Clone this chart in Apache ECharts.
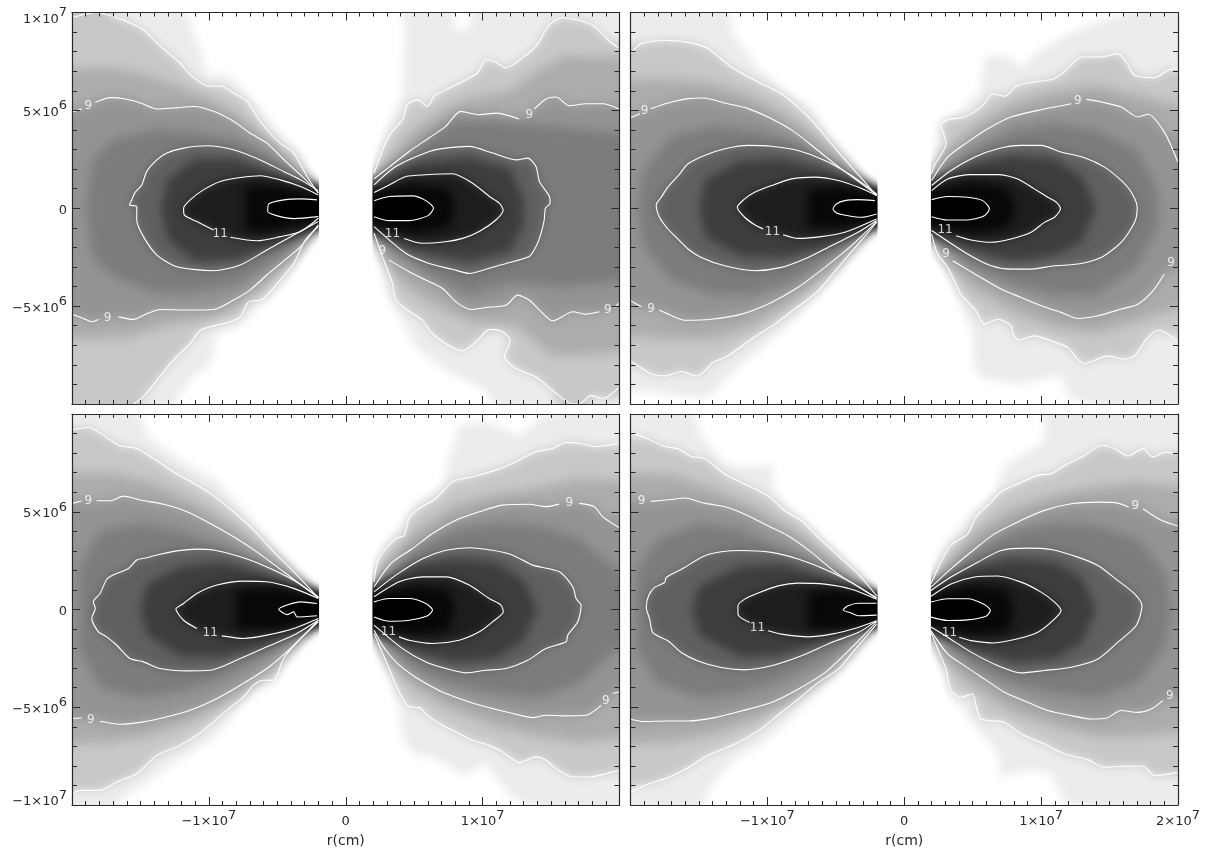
<!DOCTYPE html>
<html><head><meta charset="utf-8">
<style>html,body{margin:0;padding:0;background:#fff}#c{width:1207px;height:855px}</style>
<script src="https://cdn.jsdelivr.net/npm/echarts@6/dist/echarts.min.js"></script>
</head><body><div id="c"></div>
<script>
// All contour vertices are in units of 1e6 cm. null = a break in the white line.
// Tick label tables: value -> [mantissa text, exponent text, vertical nudge key]
const xLabelsBL = {'-10000000':['−1×10','7'],'0':['0',''],'10000000':['1×10','7']};
const xLabelsBR = {'-10000000':['−1×10','7'],'0':['0',''],'10000000':['1×10','7'],'20000000':['2×10','7']};
const yLabelsT = {'10000000':['1×10','7','down'],'5000000':['5×10','6'],'0':['0',''],'-5000000':['−5×10','6']};
const yLabelsB = {'5000000':['5×10','6'],'0':['0',''],'-5000000':['−5×10','6'],'-10000000':['−1×10','7','up']};

// ---------- top left panel, left lobe
const tlLh=[[-20,10],[-12.5,10],[-11.1,9],[-10.4,7.6],[-10.15,6.74],[-8.7,6.83],[-7.46,6.06],[-6.24,5.03],[-4.8,3.84],[-3.3,2.82],[-2,.94],[-2,-.94],[-3.3,-2.47],[-4.5,-3.84],[-6,-4.78],[-7.7,-5.97],[-9.4,-6.4],[-9.9,-7.93],[-11.1,-8.62],[-12.3,-9.64],[-12.8,-10],[-20,-10]];
const tlL8=[[-20,9.73],[-19.17,9.9],[-18.2,10],[-17,9.8],[-15.76,9.47],[-14.8,9.13],[-13.8,8.45],[-12.83,7.85],[-12.1,7.42],[-11.37,6.83],[-10.15,6.26],[-9.05,6.23],[-8.2,5.89],[-7.22,5.46],[-6.5,4.69],[-5.76,4.01],[-4.8,3.33],[-3.8,2.82],[-2.83,1.62],[-2,.77],null,[-2,-.94],[-2.95,-1.62],[-3.8,-2.82],[-4.8,-3.67],[-5.76,-4.44],[-6.24,-4.7],[-7.1,-4.78],[-7.7,-5.55],[-8.44,-5.8],[-9.4,-5.97],[-10.63,-6.23],[-11.37,-6.91],[-12.6,-7.76],[-13.8,-8.79],[-14.8,-9.64],[-15.5,-10],null,[-20,-10]];
const tlLa=[[-20,7],[-17,7.2],[-14,6.7],[-12,6.2],[-10,5.6],[-8,4.8],[-6,3.6],[-4,2.3],[-2,.85],[-2,-.85],[-4,-2.6],[-6,-3.8],[-8,-5],[-10,-5.6],[-13,-6],[-16,-6.6],[-20,-6.8]];
const tlL9=[[-20,4.9],[-19.3,5.07],null,[-18.3,5.41],[-17.2,5.65],[-16.1,5.58],[-15,5.38],[-13.8,5.07],[-12.6,5.12],[-11.1,5.2],[-9.66,4.95],[-8.2,4.44],[-7,3.84],[-5.76,3.33],[-4.5,2.47],[-3.3,1.7],[-2,.8],null,[-2,-.85],[-3.3,-1.96],[-4.3,-2.56],[-5.76,-3.41],[-7,-4.18],[-8.2,-4.69],[-9.66,-5.17],[-11.6,-5.2],[-13.56,-5.17],[-14.5,-5.38],[-15.5,-5.68],[-16.6,-5.55],null,[-18.07,-5.68],[-18.56,-5.8],[-19.17,-5.63],[-20,-5.41]];
const tlLb=[[-18.5,2.5],[-17,3.5],[-14,4],[-11,3.9],[-8,3.5],[-5,2.4],[-2,.8],[-2,-.8],[-5,-2.6],[-8,-3.9],[-11,-4.3],[-14,-4.3],[-17,-3.5],[-18.5,-2.5],[-19,0]];
const tlL10=[[-2,.9],[-3.3,1.45],[-4.54,1.88],[-6.24,2.47],[-8.2,2.99],[-10.15,3.19],[-11.85,3.07],[-13.07,2.82],[-13.8,2.47],[-14.54,1.88],[-14.9,1.19],[-15.4,.8],[-15.63,.43],[-15.8,.17],[-15.27,.08],[-15.27,-.6],[-14.78,-1.45],[-13.8,-2.39],[-12.34,-2.99],[-9.66,-3.19],[-7.7,-2.9],[-5.76,-2.13],[-3.8,-1.37],[-2,-.68]];
const tlLc=[[-13.5,0],[-13,1.5],[-11,2.5],[-8,2.5],[-5,1.7],[-2,.8],[-2,-.7],[-5,-1.9],[-8,-2.6],[-11,-2.7],[-13,-1.6]];
const tlL11=[[-2,.68],[-3.3,1.11],[-4.78,1.45],[-6.24,1.66],[-7.7,1.57],[-9.17,1.37],[-10.4,.94],[-11.37,.43],[-11.85,0],[-11.8,-.34],[-10.88,-.68],[-9.66,-1.11],null,[-8.44,-1.48],[-6.5,-1.66],[-4.78,-1.45],[-3.3,-1.19],[-2,-.51]];
const tlLd=[[-7.3,1.1],[-5,1.1],[-2,.6],[-2,-.5],[-5,-1.1],[-7.3,-1.2]];
const tlL12=[[-2.1,.43],[-3.3,.48],[-4.5,.43],[-5.63,.22],[-5.7,-.17],[-5,-.39],[-3.8,-.53],[-2,-.43]];
// ---------- top left panel, right lobe
const tlRh=[[2.07,1.8],[3.17,4.35],[4.15,5.8],[4.3,8.6],[4.15,10],[7.3,10],[8,9.1],[9,9.1],[9.5,10],[20,10],[20,-10],[12.2,-10],[10.2,-9.3],[7.3,-8.3],[5.1,-7.1],[3.9,-5.55],[3,-4.35],[2.07,-1.6]];
const tlR8=[[2.07,1.79],[2.8,3.16],[3.3,3.84],[4.15,4.52],[4.5,5.29],[5.24,5.55],[5.98,5.2],[6.46,5.72],[7.56,6.14],[8.78,6.57],[9.63,6.91],[10.24,7.59],[10.85,7.51],[11.7,7.17],[12.9,7.68],[13.9,8.28],[14.9,9.39],[15.85,9.73],[17.07,9.6],[18.17,9.3],[19.27,8.53],[20,8.16],null,[20,-9.13],[18.8,-9.73],[17.93,-9.56],[17.07,-10],[16.6,-10],[15.1,-9.3],[13.9,-8.62],[12.44,-8.19],[11.6,-7.59],[12,-6.74],[11.46,-6.31],[10.5,-6.19],[9.63,-6.74],[8.54,-7.29],[7.3,-6.91],[6.2,-6.31],[5.6,-5.72],[4.5,-5.2],[3.66,-4.69],[3.41,-3.84],[2.68,-2.47],[2.07,-1.28]];
const tlRa=[[2.07,1.3],[3.5,2.8],[5,4],[7,5],[9,5.6],[12,6],[14,7],[16,7.8],[20,7.5],[20,-7.2],[17,-7.5],[15,-7.5],[12.5,-6],[9,-5.8],[6,-4.8],[4,-3.8],[2.5,-2],[2.07,-1.2]];
const tlR9=[[2.07,1.5],[3.17,2.1],[4.63,2.9],[6.1,3.6],[7.3,4.18],[8.4,4.95],[9.75,4.78],[10.97,4.86],[12.68,4.56],null,[13.78,5.07],[14.63,5.58],[15.37,5.68],[16.34,5.24],[17.56,5.34],[18.78,5.34],[20,5.07],null,[20,-4.83],[19.63,-5.07],null,[18.54,-5.29],[17.56,-5.41],[16.6,-5.29],[15.12,-5.75],[14.4,-5.38],[13.4,-4.69],[12.56,-4.44],[11.7,-4.95],[10.24,-5.07],[9.15,-5.17],[8.05,-4.78],[7.07,-4.1],[5.85,-3.67],[4.63,-3.24],[3.17,-2.65],null,[2.07,-1.28]];
const tlRb=[[2.07,1],[4,2.4],[6,3.6],[8,4.5],[11,4.4],[15,4.2],[20,3.5],[20,-3.5],[16,-4],[12,-3.8],[9,-4.4],[6,-3.4],[2.07,-1]];
const tlR10=[[2.07,1.19],[3.66,2.13],[6.1,2.9],[7.3,3.07],[9.02,3.16],[10.73,2.82],[12.44,2.47],[13.3,2.56],[13.9,2.13],[14.15,1.37],[14.88,.6],[14.93,.26],[14.59,0],[14.5,-.6],[14.27,-1.28],[13.9,-1.96],[13.4,-2.47],[11.7,-2.82],[10.24,-3.12],[9.02,-3.33],[7.8,-3.12],[6.1,-2.82],[4.39,-2.3],[2.07,-.94]];
const tlRc=[[2.07,.9],[5,2.3],[9,2.6],[12,2],[13,.5],[13,-.8],[12,-2.2],[9,-2.7],[5,-2.2],[2.07,-.8]];
const tlR11=[[2.07,.8],[3.17,1.19],[4.39,1.62],[5.85,1.71],[7.8,1.76],[9.27,1.28],[10.5,.6],[11.22,.26],[11.5,-.09],[10.97,-.6],[9.75,-1.19],[8.54,-1.54],[7.3,-1.71],[5.6,-1.79],[4.27,-1.54],null,[2.07,-.85]];
const tlRd=[[2,.7],[5,1.2],[7.5,1],[8,0],[7.5,-1],[5,-1.3],[2,-.7]];
const tlR12=[[2.07,.38],[3.17,.6],[4.88,.63],[5.85,.39],[6.41,0],[5.98,-.39],[4.63,-.63],[3.17,-.63],[2.07,-.43]];
// ---------- top right panel, left lobe
const trLh=[[-20,10],[-13.5,10],[-12.4,8.75],[-10.7,7.2],[-8.7,6],[-6.8,5.17],[-5.3,3.46],[-3.6,2.1],[-2,.73],[-2,-.72],[-3.6,-2.17],[-5.8,-4.04],[-7.76,-5.58],[-10.7,-7.29],[-12.9,-8.65],[-14.34,-9.68],[-16.5,-9.6],[-18,-9.4],[-20,-9.2]];
const trL8=[[-20,7.9],[-19.2,8.41],[-17.4,8.58],[-15.56,8.45],[-14.34,8.16],[-12.63,7.22],[-10.68,6.45],[-8.98,5.85],[-7.76,5.17],[-6.54,4.32],[-5.32,3.29],[-3.85,2.1],[-2.02,.65],null,[-2.02,-.72],[-3.37,-1.83],[-4.83,-3.02],[-6.3,-4.22],[-8,-5.15],[-9.46,-5.92],[-11.17,-6.69],[-12.88,-7.54],[-13.98,-7.88],[-14.7,-8.4],[-15.2,-8.57],[-16.3,-8.34],[-17.5,-8.57],[-18.5,-8.45],[-19.46,-8.05],[-20,-7.8]];
const trLa=[[-20,6.5],[-17,6.6],[-14,6.4],[-11,5.7],[-8,4.5],[-5,2.9],[-2,.7],[-2,-.7],[-5,-3],[-8,-4.7],[-11,-6],[-14,-6.7],[-17,-6.7],[-20,-6.3]];
const trL9=[[-20,4.62],[-19.3,4.83],null,[-18.5,5.09],[-17.27,5.38],[-15.8,5.6],[-14.7,5.63],[-12.88,5.34],[-11.4,5.09],[-9.7,4.57],[-8,3.89],[-6.3,2.95],[-4.6,2.01],[-2.02,.68],null,[-2.02,-.67],[-3.85,-1.91],[-5.8,-3.02],[-7.76,-4.04],[-9.7,-4.81],[-11.9,-5.41],[-14.1,-5.67],[-16.05,-5.72],[-17,-5.49],[-17.9,-5.2],null,[-19.2,-5.03],[-20,-4.73]];
const trLb=[[-19.5,0],[-19,2],[-17,3.7],[-14,4.2],[-11,4],[-8,3.4],[-5,2.1],[-2,.7],[-2,-.7],[-5,-2.3],[-8,-3.7],[-11,-4.4],[-14,-4.4],[-17,-3.7],[-19,-2]];
const trL10=[[-2.02,.73],[-3.85,1.67],[-5.8,2.44],[-7.76,2.95],[-9.7,3.17],[-11.4,3.21],[-13.1,3.04],[-14.6,2.7],[-15.8,2.27],[-16.4,1.76],[-17.27,1.08],[-17.76,.56],[-18.12,.17],[-17.88,-.46],[-17.27,-1.06],[-16.78,-1.4],[-15.8,-2.08],[-14.83,-2.51],[-13.12,-2.94],[-10.93,-3.19],[-8.98,-3.02],[-7.02,-2.51],[-5.32,-1.91],[-3.37,-1.23],[-2.02,-.63]];
const trLc=[[-15,0],[-14.5,1.5],[-12,2.4],[-9,2.5],[-6,2],[-2,.7],[-2,-.7],[-6,-2.1],[-9,-2.5],[-12,-2.4],[-14.5,-1.5]];
const trL11=[[-2.02,.65],[-3.37,1.08],[-4.83,1.42],[-6.54,1.59],[-8.24,1.5],[-9.7,1.16],[-10.93,.82],[-11.66,.48],[-12.2,.05],[-11.66,-.46],[-10.93,-.84],[-10.3,-1.06],null,[-8.85,-1.35],[-7.76,-1.54],[-6.05,-1.45],[-4.34,-1.23],[-2.02,-.55]];
const trLd=[[-7,.9],[-4.5,1.1],[-2,.6],[-2,-.5],[-4.5,-1],[-7,-1]];
const trL12=[[-2.15,.39],[-3.37,.44],[-4.34,.39],[-4.95,.22],[-5.2,-.03],[-4.95,-.24],[-4.1,-.38],[-3.12,-.46],[-2.02,-.29]];
// ---------- top right panel, right lobe
const trRh=[[2,1.9],[2.6,4.3],[4.2,5],[5.5,6],[5.9,7.7],[7.3,7.9],[8.5,7.2],[10,8.1],[12,8.9],[14.6,9.6],[20,10],[20,-10],[12,-9.7],[11.5,-8.5],[8.5,-9],[5.6,-8.7],[5.1,-8.1],[5,-6.4],[4,-4.7],[2.7,-2.5],[2,-1.3]];
const trR8=[[2,1.76],[2.2,2.18],[3.05,3.29],[2.88,3.8],[2.68,4.23],[3.17,4.52],[4.15,4.62],[5.12,4.91],[5.85,5.34],[6.46,5.85],[7.32,5.72],[8.3,6.28],[9.76,6.48],[10.98,6.62],[11.95,7.13],[12.93,7.73],[14.39,7.73],[15.6,7.9],[16.22,7.47],[16.83,6.79],[18.3,6.67],[19.27,7.05],[20,7.18],null,[20,-6.86],[19.27,-6.43],[18.54,-6.23],[17.8,-6.6],[16.83,-7.54],[16.1,-7.71],[14.88,-7.54],[13.17,-7.93],[12.68,-7.71],[11.95,-7.12],[10.73,-6.77],[9.5,-6.52],[8.4,-6.74],[7.93,-6.43],[7.8,-6],[6.83,-5.67],[5.85,-5.92],[5.24,-5.24],[4.15,-4.39],[3.17,-3.02],[2.44,-2.34],[2,-1.31]];
const trRa=[[2,1.4],[3,2.9],[5,4.1],[8,5.4],[11,6],[14,6.3],[17,5.8],[20,4.5],[20,-4.2],[17,-5.8],[14,-6.4],[11,-6.1],[8,-5.3],[5,-4.1],[3,-2.7],[2,-1.3]];
const trR9=[[2,1.42],[3.17,2.61],[4.63,3.38],[6.1,4.06],[7.8,4.66],[9.76,5],[12.2,5.34],null,[13.3,5.56],[14.4,5.43],[15.85,5.17],[17.07,4.66],[17.8,4.8],[19,3.89],[20,2.35],null,[20,-2.2],null,[19,-3.36],[18.17,-4.22],[17.07,-4.9],[15.85,-5.15],[14.15,-5.49],[12.68,-5.63],[11.46,-5.32],[10,-4.98],[8.54,-4.56],[7.07,-4.13],[5.37,-3.45],[3.54,-2.68],null,[2,-1.31]];
const trRb=[[2,1.3],[5,2.9],[8,4],[11,4.3],[14,4],[17,3],[18.5,1],[18.5,-1],[17,-3],[14,-4.4],[11,-4.4],[8,-3.9],[5,-3],[2,-1.2]];
const trR10=[[2,1.16],[3.41,1.93],[5.12,2.61],[6.83,3.04],[8.54,3.21],[10,3.21],[11.46,2.87],[13.17,2.58],[14.63,2.1],[15.85,1.42],[16.59,.82],[17.02,.05],[16.83,-.72],[15.85,-1.74],[14.39,-2.51],[12.68,-2.85],[10.98,-2.94],[9.27,-3.11],[7.8,-3.11],[6.34,-2.94],[4.63,-2.34],[2,-1.14]];
const trRc=[[2,1.1],[5,2.3],[8,2.7],[11,2.5],[13,1.6],[14,0],[13,-1.7],[11,-2.4],[8,-2.7],[5,-2.2],[2,-1.1]];
const trR11=[[2,.9],[3.17,1.5],[4.88,1.72],[6.83,1.72],[8.3,1.5],[9.5,.99],[10.49,.56],[11.1,.31],[11.41,-.03],[10.98,-.46],[10.24,-.72],[9.27,-1.23],[7.8,-1.57],[6.34,-1.74],[4.88,-1.62],[3.78,-1.4],null,[2,-.89]];
const trRd=[[2,.8],[5,1.3],[7.5,1],[8.2,0],[7.5,-1],[5,-1.3],[2,-.8]];
const trR12=[[2,.44],[3.17,.6],[4.63,.56],[5.73,.39],[6.22,-.03],[5.85,-.38],[4.63,-.6],[3.17,-.6],[2,-.43]];
// ---------- bottom left panel, left lobe
const blLh=[[-20,10],[-16,10],[-14.5,8.9],[-12.1,7.65],[-9.4,6.6],[-7.2,4.83],[-5,3.12],[-3.3,1.76],[-2,.6],[-2,-.63],[-4,-2.34],[-5.3,-3.7],[-7.2,-4.56],[-9.66,-6.6],[-12.1,-7.63],[-14.5,-8.82],[-16.7,-9.85],[-17,-10],[-20,-10]];
const blL8=[[-20,9.18],[-18.8,9.32],[-17.7,8.92],[-16.5,8.38],[-15.27,8.24],[-14.05,7.73],[-12.6,7.05],[-11.1,6.45],[-9.9,5.94],[-8.2,5],[-6.73,4.06],[-5.27,2.95],[-3.8,1.93],[-2,.6],null,[-2,-.63],[-3.3,-1.48],[-4.54,-2.51],[-5.27,-3.62],[-6,-3.62],[-6.73,-3.87],[-7.46,-4.47],[-8.68,-5.15],[-10.39,-6.18],[-12.1,-6.95],[-13.8,-7.46],[-15.27,-8.4],[-16.73,-8.82],[-17.95,-9.25],[-19.4,-9.25],[-20,-9.42]];
const blLa=[[-20,7],[-17,7],[-14,6.5],[-11,5.5],[-8,4.2],[-5,2.6],[-2,.6],[-2,-.6],[-5,-2.7],[-8,-4.4],[-11,-5.6],[-14,-6.4],[-17,-6.8],[-20,-7]];
const blL9=[[-20,5.43],[-19.3,5.55],null,[-18.2,5.56],[-17.2,5.56],[-16.24,5.8],[-15,5.6],[-13.3,5.38],[-11.6,5],[-9.9,4.4],[-8.2,3.72],[-6.5,2.95],[-4.54,1.93],[-2,.6],null,[-2,-.55],[-3.8,-1.83],[-5.76,-3.02],[-7.7,-3.87],[-9.66,-4.64],[-11.37,-5.15],[-13.07,-5.49],[-14.78,-5.75],[-16.5,-5.87],[-17.95,-5.72],null,[-19.3,-5.55],[-20,-5.58]];
const blLb=[[-19.5,2],[-18,4],[-15,4.4],[-12,4],[-9,3.2],[-5,1.9],[-2,.6],[-2,-.6],[-5,-2],[-9,-3.5],[-12,-4.2],[-15,-4.5],[-18,-4],[-19.5,-2]];
const blL10=[[-2,.65],[-3.8,1.5],[-5.76,2.18],[-7.7,2.7],[-9.66,3.04],[-10.88,3.09],[-12.34,3],[-13.56,2.83],[-14.54,2.65],[-15.27,2.53],[-15.88,2.1],[-17,1.76],[-17.46,1.55],[-17.95,.82],[-18.44,.39],[-18.3,.05],[-18.56,-.46],[-18.07,-1.14],[-17.46,-1.4],[-16.73,-1.83],[-15.76,-2.51],[-14.78,-2.68],[-13.56,-3.02],[-11.6,-3.14],[-9.9,-3.11],[-7.7,-2.51],[-5.76,-1.91],[-3.8,-1.31],[-2,-.55]];
const blLc=[[-15,0],[-14.5,1.3],[-12,2.2],[-9,2.4],[-6,1.8],[-2,.6],[-2,-.6],[-6,-1.9],[-9,-2.4],[-12,-2.4],[-14.5,-1.3]];
const blL11=[[-2,.56],[-3.8,1.08],[-5.76,1.42],[-7.46,1.45],[-9.41,1.25],[-10.88,.82],[-11.85,.31],[-12.41,.02],[-11.85,-.55],[-10.88,-.97],null,[-9.05,-1.35],[-7.46,-1.48],[-5.76,-1.31],[-3.8,-.97],[-2,-.46]];
const blLd=[[-8,1],[-5,1.1],[-2,.5],[-2,-.4],[-5,-1],[-8,-1]];
const blL12=[[-2.1,.31],[-3.3,.39],[-4.17,.26],[-4.9,.02],[-4.3,-.26],[-3.8,-.12],[-3.56,-.38],[-2.1,-.32]];
// ---------- bottom left panel, right lobe
const blRh=[[2.07,1.6],[2.7,3.1],[4.4,4.66],[5.1,5.5],[7,6.2],[7.56,7.73],[8.3,9.44],[10.24,9.6],[12.7,8.9],[14.15,9.78],[20,10],[20,-10],[12.7,-9.85],[12,-9.5],[10.24,-7.9],[8.5,-8.5],[7.8,-8.14],[6.6,-7.63],[4.88,-7.37],[4.15,-6.6],[3.9,-4.9],[2.7,-2.7],[2.07,-1.3]];
const blR8=[[2.07,1.42],[2.32,2.44],[2.93,3.12],[3.66,3.63],[4.27,3.8],[4.63,4.66],[5.37,5.17],[6.59,5.68],[7.8,6.54],[9.27,6.79],[10.98,7.13],[12.44,7.56],[13.9,8.07],[15.12,8.24],[16.1,8.55],[17.07,8.5],[18.3,8.33],[20,8.5],null,[20,-8.23],[19.02,-8.4],[17.8,-8.57],[16.59,-8.57],[15.37,-8.14],[14.63,-7.71],[13.9,-7.54],[12.68,-7.83],[11.46,-7.29],[10.49,-6.95],[9.27,-6.69],[8.29,-6.35],[7.07,-5.92],[6.1,-5.49],[5.37,-5.02],[4.63,-4.98],[3.9,-4.21],[3.17,-3.02],[2.44,-1.83],[2.07,-1.23]];
const blRa=[[2.07,1.2],[2.5,1.8],[5,4],[8,5.4],[11,5.9],[14,6.2],[17,6.7],[20,6.4],[20,-6.3],[17,-6.8],[14,-6.5],[11,-6],[8,-5.2],[5,-4],[3,-2.6],[2.07,-1.2]];
const blR9=[[2.07,1.16],[3.29,2.35],[4.88,3.12],[6.34,3.89],[8.05,4.57],[9.76,5],[11.46,5.34],[13.41,5.38],[14.63,5.26],[15.6,5.39],null,[17.07,5.43],[18.17,5.26],[18.78,4.74],[20,4.18],null,[20,-4.21],[19.5,-4.3],null,[18.66,-4.9],[17.56,-5.41],[16.1,-5.44],[14.63,-5.41],[13.66,-5.53],[12.2,-5.32],[10.49,-5.03],[9.02,-4.73],[7.32,-4.3],[6.1,-3.87],[4.88,-3.36],[3.66,-2.68],[2.68,-1.83],[2.07,-1.06]];
const blRb=[[2.07,.9],[5,3],[8,4.1],[11,4.4],[14,4.3],[17,3.7],[19,2.5],[20,0],[19,-2.5],[17,-3.8],[14,-4.5],[11,-4.3],[8,-3.9],[5,-3],[2.07,-.9]];
const blR10=[[2.07,.9],[3.66,1.76],[5.61,2.6],[7.32,3.03],[9.02,3.16],[10.73,3.03],[12.2,2.78],[13.66,2.27],[15.61,1.93],[16.59,1.16],[16.83,.56],[17.2,.22],[16.95,-.63],[16.22,-1.31],[16.1,-1.65],[14.63,-2],[13.29,-2.6],[11.71,-3.02],[10.24,-3.11],[8.78,-3.24],[7.32,-3.02],[5.85,-2.68],[4.15,-2],[2.07,-.8]];
const blRc=[[2.07,.8],[5,2.3],[8,2.6],[11,2.4],[13,1.5],[14,0],[13,-1.6],[11,-2.5],[8,-2.7],[5,-2.2],[2.07,-.8]];
const blR11=[[2.07,.65],[3.9,1.42],[5.61,1.67],[7.32,1.67],[9.02,1.25],[10.49,.56],[11.34,.22],[11.51,-.12],[10.73,-.63],[9.76,-1.14],[8.29,-1.57],[6.34,-1.74],[4.63,-1.57],[3.9,-1.4],null,[2.07,-.84]];
const blRd=[[2,.6],[5,1.2],[7.5,1],[8,0],[7.5,-1.1],[5,-1.3],[2,-.7]];
const blR12=[[2.07,.39],[3.17,.56],[4.63,.56],[5.85,.31],[6.34,-.03],[5.98,-.32],[4.63,-.55],[3.17,-.6],[2.07,-.38]];
// ---------- bottom right panel, left lobe
const brLh=[[-20,10],[-16.3,10],[-14.83,8.9],[-13.12,7.44],[-10.68,7.27],[-9.7,7.53],[-9.46,6],[-7.27,4.45],[-5.32,3.09],[-3.37,1.72],[-2,.7],[-2,-.75],[-3.85,-2.54],[-6.78,-4.59],[-9.95,-6.64],[-12.39,-7.66],[-14.34,-9.2],[-15.56,-9.97],[-20,-10]];
const brL8=[[-20,9.06],[-18.73,8.72],[-17.5,8.34],[-16.5,8.21],[-15.56,7.83],[-14.6,7.73],[-13.12,6.93],[-11.66,6.42],[-9.95,5.82],[-8.73,5.05],[-7.51,4.54],[-6.29,3.69],[-4.83,2.75],[-3.37,1.81],[-2.02,.7],null,[-2.02,-.75],[-3.37,-1.86],[-4.83,-3.05],[-6.29,-3.74],[-7.76,-4.59],[-8.98,-5.27],[-10.68,-6.21],[-12.39,-6.89],[-14.34,-7.46],[-15.8,-8.09],[-17.27,-8.6],[-18.73,-8.94],[-20,-9.33]];
const brLa=[[-20,7],[-17,6.9],[-14,6.2],[-11,5.3],[-8,4],[-5,2.5],[-2,.6],[-2,-.6],[-5,-2.9],[-8,-4.5],[-11,-5.7],[-14,-6.4],[-17,-6.8],[-20,-7]];
const brL9=[[-20,5.56],null,[-18.5,5.53],[-17.27,5.61],[-16.05,5.7],[-14.6,5.44],[-12.88,5.22],[-11.41,4.8],[-9.95,4.28],[-8.49,3.77],[-6.78,2.92],[-4.83,1.81],[-2.02,.61],null,[-2.02,-.63],[-3.85,-1.95],[-5.8,-3.23],[-7.76,-4.08],[-9.7,-4.76],[-11.9,-5.19],[-13.85,-5.53],[-15.8,-5.7],[-17.5,-5.7],[-18.98,-5.73],[-20,-5.61]];
const brLb=[[-19.6,2],[-18,3.6],[-15,4.4],[-12,4.1],[-9,3.1],[-5,1.8],[-2,.6],[-2,-.6],[-5,-2.2],[-9,-3.6],[-12,-4.3],[-15,-4.5],[-18,-3.8],[-19.6,-2]];
const brL10=[[-2.02,.56],[-3.85,1.38],[-5.8,2.06],[-7.76,2.58],[-9.7,2.92],[-11.9,3.02],[-13.37,2.95],[-14.7,2.71],[-16.05,2.15],[-17.39,1.64],[-17.51,1.38],[-18.24,1.13],[-18.68,.7],[-18.85,.1],[-18.6,-.49],[-18.37,-1.18],[-17.27,-1.6],[-16.29,-2.2],[-15.07,-2.63],[-13.37,-2.97],[-11.66,-3.09],[-9.7,-2.88],[-7.51,-2.37],[-5.32,-1.69],[-3.37,-1.18],[-2.02,-.58]];
const brLc=[[-15.5,0],[-15,1.2],[-12,2.2],[-9,2.3],[-6,1.7],[-2,.55],[-2,-.55],[-6,-1.7],[-9,-2.3],[-12,-2.4],[-15,-1.3]];
const brL11=[[-2.02,.53],[-3.85,1.04],[-5.8,1.3],[-7.76,1.35],[-9.22,1.21],[-10.68,.84],[-11.66,.53],[-12.15,.19],[-12.15,-.24],[-11.29,-.67],null,[-9.95,-1.09],[-8.98,-1.26],[-7.02,-1.4],[-5.32,-1.26],[-3.37,-.92],[-2.02,-.58]];
const brLd=[[-7,.9],[-4.5,1],[-2,.5],[-2,-.5],[-4.5,-1],[-7,-1]];
const brL12=[[-2.02,.32],[-3.37,.32],[-4.1,.19],[-4.46,-.02],[-3.85,-.19],[-3.37,-.32],[-2.02,-.29]];
// ---------- bottom right panel, right lobe
const brRh=[[1.95,1.4],[2.7,3],[4.9,4.9],[6.6,5.84],[7.3,7.37],[10.24,8.57],[10.24,10],[20,10],[20,-10],[11.7,-9.86],[10.7,-8.33],[8.78,-8.24],[7.07,-8.58],[6.83,-7.3],[5.12,-5.94],[3.66,-4.57],[2.68,-2.7],[1.95,-1.25]];
const brR8=[[1.95,1.31],[2.68,2.42],[3.41,3.28],[4.63,3.87],[5.24,4.73],[6.1,5.32],[7.07,6.01],[8.29,6.43],[9.76,6.86],[10.73,6.95],[11.95,7.46],[13.17,7.88],[14.39,8.4],[15.37,8.23],[16.34,7.85],[17.44,8.23],[18.17,7.8],[19.02,8.05],[20,7.97],null,[20,-8.33],[18.29,-8.5],[17.44,-8.02],[16.1,-8.02],[14.63,-8.07],[13.41,-7.68],[11.71,-7.39],[10.24,-6.88],[8.54,-6.37],[7.32,-5.77],[5.61,-5.6],[5.24,-4.91],[5,-4.32],[4.15,-4.49],[3.41,-4.15],[3.05,-3.04],[2.44,-2.01],[1.95,-1.16]];
const brRa=[[1.95,1.2],[2.5,1.7],[5,3.9],[8,5.2],[11,5.9],[14,6.3],[17,6.5],[20,6],[20,-6],[17,-6.5],[14,-6.5],[11,-6],[8,-5.3],[5,-4],[3,-2.7],[1.95,-1.1]];
const brR9=[[1.95,1.14],[3.41,2.08],[4.88,2.94],[6.59,3.87],[8.54,4.56],[10.24,5.07],[12.2,5.41],[14.15,5.49],[15.61,5.44],[16.39,5.24],null,[17.44,5.15],[18.78,4.56],[20,4.27],null,[20,-4.15],null,[18.9,-4.66],[18.05,-5.09],[17.07,-5.26],[15.85,-5.17],[14.76,-5.56],[13.66,-5.6],[12.2,-5.43],[10.49,-5.17],[9.02,-4.74],[7.32,-4.23],[5.85,-3.55],[4.39,-2.87],[3.17,-2.27],[1.95,-1.08]];
const brRb=[[1.95,1],[5,2.9],[8,4],[11,4.4],[14,4.3],[17,3.6],[19,2],[19.5,0],[19,-2],[17,-3.8],[14,-4.5],[11,-4.3],[8,-3.8],[5,-2.9],[1.95,-1]];
const brR10=[[1.95,.97],[3.41,1.66],[5.37,2.42],[7.07,3.02],[9.02,3.14],[10.73,3.07],[12.68,2.68],[14.15,2.25],[15.61,1.48],[16.83,.8],[17.37,.2],[16.95,-.82],[15.61,-1.67],[14.15,-2.53],[12.2,-2.95],[10.24,-3.12],[8.54,-3.24],[6.83,-2.87],[4.88,-2.18],[3.17,-1.42],[1.95,-.9]];
const brRc=[[1.95,.9],[5,2.2],[8,2.6],[11,2.4],[13,1.6],[14,0],[13,-1.7],[11,-2.5],[8,-2.7],[5,-2.1],[1.95,-.9]];
const brR11=[[1.95,.68],[3.41,1.31],[5.12,1.66],[6.83,1.71],[8.54,1.4],[10,.89],[10.98,.38],[11.46,-.05],[10.73,-.65],[9.76,-1.16],[8.29,-1.5],[6.59,-1.71],[4.88,-1.59],[4.02,-1.42],null,[1.95,-.73]];
const brRd=[[2,.6],[5,1.2],[7.5,1],[8,0],[7.5,-1.1],[5,-1.3],[2,-.7]];
const brR12=[[1.95,.38],[3.17,.55],[4.63,.55],[5.85,.26],[6.29,-.05],[5.98,-.34],[4.63,-.53],[3.17,-.56],[1.95,-.39]];

// Contour labels: [x, y, text]
const tlText=[[-18.8,5.24,'9'],[-17.4,-5.6,'9'],[-9.17,-1.33,'11'],[3.41,-1.33,'11'],[2.68,-2.2,'9'],[13.41,4.78,'9'],[19.15,-5.2,'9']];
const trText=[[-18.98,4.95,'9'],[-18.5,-5.15,'9'],[-9.63,-1.19,'11'],[12.68,5.5,'9'],[2.98,-1.11,'11'],[3.05,-2.33,'9'],[19.5,-2.8,'9']];
const blText=[[-18.8,5.56,'9'],[-18.63,-5.67,'9'],[-9.9,-1.18,'11'],[16.34,5.43,'9'],[3.12,-1.14,'11'],[19,-4.66,'9']];
const brText=[[-19.2,5.58,'9'],[-10.73,-.92,'11'],[16.88,5.29,'9'],[3.3,-1.19,'11'],[19.4,-4.44,'9']];

// Gray shade and softness of each nested region, outermost first
const shades=[236,200,172,148,124,96,62,30,8,0];
const softness=[10,10,12,12,12,10,10,8,10,2];
const gapBox=[[-1.95,10],[1.95,10],[1.95,-10],[-1.95,-10]];

const panels=[
 {grid:{left:72,top:12.5,width:547.5,height:391.5},fills:[[tlLh,tlL8,tlLa,tlL9,tlLb,tlL10,tlLc,tlL11,tlLd,tlL12],[tlRh,tlR8,tlRa,tlR9,tlRb,tlR10,tlRc,tlR11,tlRd,tlR12]],text:tlText,yl:yLabelsT,xl:null,name:''},
 {grid:{left:630.5,top:12.5,width:547.5,height:391.5},fills:[[trLh,trL8,trLa,trL9,trLb,trL10,trLc,trL11,trLd,trL12],[trRh,trR8,trRa,trR9,trRb,trR10,trRc,trR11,trRd,trR12]],text:trText,yl:null,xl:null,name:''},
 {grid:{left:72,top:414,width:547.5,height:391},fills:[[blLh,blL8,blLa,blL9,blLb,blL10,blLc,blL11,blLd,blL12],[blRh,blR8,blRa,blR9,blRb,blR10,blRc,blR11,blRd,blR12]],text:blText,yl:yLabelsB,xl:xLabelsBL,name:'r(cm)'},
 {grid:{left:630.5,top:414,width:547.5,height:391},fills:[[brLh,brL8,brLa,brL9,brLb,brL10,brLc,brL11,brLd,brL12],[brRh,brR8,brRa,brR9,brRb,brR10,brRc,brR11,brRd,brR12]],text:brText,yl:null,xl:xLabelsBR,name:'r(cm)'}
];

const ink='#2a2a2a';
const tf={fontFamily:'DejaVu Sans',fontSize:13,color:ink};
const rich={m:{...tf,lineHeight:26,verticalAlign:'middle'},
            s:{...tf,lineHeight:14,verticalAlign:'top'},
            a:{fontSize:1,lineHeight:10},
            b:{fontSize:1,lineHeight:10}};
const fmt=t=>v=>{const e=t&&t[String(v)];if(!e)return'';
  const body=e[1]?`{m|${e[0]}}{s|${e[1]}}`:`{m|${e[0]}}`;
  return e[2]==='down'?`{a| }\n${body}`:e[2]==='up'?`${body}\n{b| }`:body;};
const lineStyle={color:ink,width:1};
const axisBase=(extra)=>Object.assign({type:'value',z:10,axisLine:{show:true,onZero:false,lineStyle:{color:ink,width:1.2}},
  axisTick:{show:true,inside:true,length:8,lineStyle},minorTick:{show:true,length:4,lineStyle},splitLine:{show:false},minorSplitLine:{show:false}},extra);
const xBase={min:-2e7,max:2e7,interval:1e7};
const yBase={min:-1e7,max:1e7,interval:5e6};

const grid=[],xAxis=[],yAxis=[],series=[];
const scale=p=>[p[0]*1e6,p[1]*1e6];
// Blurred regions are drawn as the soft shadow of a shape parked off the canvas.
const PARK=4000;
// Regions touching the frame run a little past it so the soft edge stays hidden;
// the dark inner regions also run into the central gap, which is then masked white.
const bleed=(q,k)=>{const ax=Math.abs(q[0]),ay=Math.abs(q[1]);
  return [ax>=19.9?q[0]*1.2:(ax<=2.2&&k>=5)?q[0]*.5:q[0], ay>=9.9?q[1]*1.2:q[1]];};
panels.forEach((pn,i)=>{
  grid.push(pn.grid);
  xAxis.push(axisBase(Object.assign({},xBase,{gridIndex:i,position:'bottom',minorTick:{show:true,splitNumber:10,length:4,lineStyle},
    axisLabel:pn.xl?{show:true,formatter:fmt(pn.xl),rich,margin:4,showMinLabel:false,hideOverlap:false}:{show:false},
    name:pn.name,nameLocation:'middle',nameGap:29,nameTextStyle:{...tf,fontSize:14}})));
  const xi=xAxis.length-1;
  xAxis.push(axisBase(Object.assign({},xBase,{gridIndex:i,position:'top',minorTick:{show:true,splitNumber:10,length:4,lineStyle},axisLabel:{show:false}})));
  yAxis.push(axisBase(Object.assign({},yBase,{gridIndex:i,position:'left',minorTick:{show:true,splitNumber:5,length:5,lineStyle},
    axisLabel:pn.yl?{show:true,formatter:fmt(pn.yl),rich,margin:5,padding:[4,0,0,0],hideOverlap:false}:{show:false}})));
  const yi=yAxis.length-1;
  yAxis.push(axisBase(Object.assign({},yBase,{gridIndex:i,position:'right',minorTick:{show:true,splitNumber:5,length:5,lineStyle},axisLabel:{show:false}})));

  const polys=[];
  pn.fills.forEach(lobe=>lobe.forEach((arr,k)=>polys.push({pts:arr.filter(Boolean).map(q=>bleed(q,k)),g:shades[k],b:softness[k]})));
  polys.push({pts:gapBox,g:255,b:0});
  series.push({type:'custom',coordinateSystem:'cartesian2d',xAxisIndex:xi,yAxisIndex:yi,clip:true,silent:true,animation:false,z:1,
    data:polys.map((p,k)=>[k,0]),
    encode:{x:-1,y:-1},
    renderItem:(params,api)=>{
      const p=polys[params.dataIndex];
      const c=`rgb(${p.g},${p.g},${p.g})`;
      const pts=p.pts.map(q=>api.coord(scale(q)));
      if(!p.b) return {type:'polygon',shape:{points:pts},style:{fill:c}};
      return {type:'polygon',shape:{points:pts.map(o=>[o[0]-PARK,o[1]])},
        style:{fill:c,shadowBlur:p.b,shadowColor:c,shadowOffsetX:PARK}};
    }});
  pn.fills.forEach(lobe=>[1,3,5,7,9].forEach(k=>{
    series.push({type:'line',xAxisIndex:xi,yAxisIndex:yi,z:3,silent:true,animation:false,showSymbol:false,symbol:'none',smooth:0.25,connectNulls:false,
      lineStyle:{color:'#fff',width:1.1},data:lobe[k].map(q=>q?scale(q):['-','-'])});
  }));
  series.push({type:'scatter',xAxisIndex:xi,yAxisIndex:yi,z:4,silent:true,animation:false,symbolSize:0,
    data:pn.text.map(t=>({value:[t[0]*1e6,t[1]*1e6],name:t[2]})),
    label:{show:true,position:'inside',formatter:d=>d.name,color:'#fff',fontFamily:'DejaVu Sans',fontSize:12}});
});

const chart=echarts.init(document.getElementById('c'),null,{renderer:'canvas',width:1207,height:855});
chart.setOption({animation:false,backgroundColor:'#fff',grid,xAxis,yAxis,series});
</script></body></html>
